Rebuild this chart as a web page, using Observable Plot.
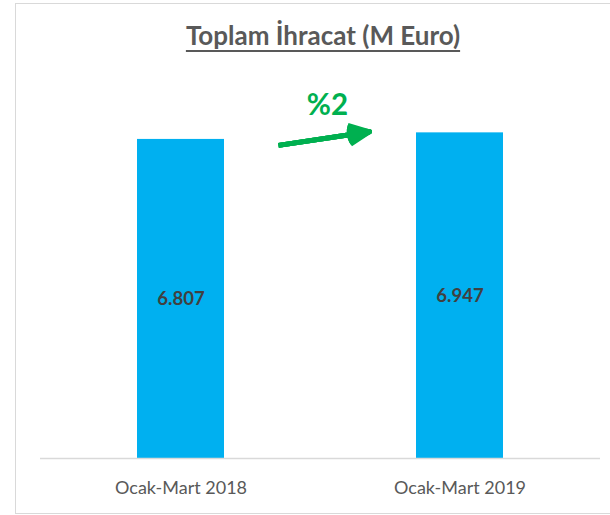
<!DOCTYPE html>
<html><head><meta charset="utf-8">
<script src="https://cdn.jsdelivr.net/npm/d3@7"></script>
<script src="https://cdn.jsdelivr.net/npm/@observablehq/plot@0.6"></script>
<style>
body{margin:0;background:#fff;}
#wrap{position:relative;width:610px;height:515px;overflow:hidden;font-family:Lato,sans-serif;background:#fff;}
#frame{position:absolute;left:15px;top:3px;width:640px;height:511px;border:1px solid #d9d9d9;box-sizing:border-box;}
#title{position:absolute;top:20px;left:43px;width:560px;text-align:center;font-size:26px;line-height:30px;font-weight:bold;color:#595959;text-decoration:underline;text-decoration-thickness:2px;text-underline-offset:5px;}
#chart{position:absolute;top:70px;left:0;}
</style>
</head><body>
<div id="wrap">
  <div id="frame"></div>
  <div id="title">Toplam İhracat (M Euro)</div>
  <div id="chart"></div>
</div>
<script>
const categories = ["Ocak-Mart 2018", "Ocak-Mart 2019"];
const values = [6807, 6947];
const growthLabel = "%2";
const yMax = 8000;
// growth arrow annotation (data units)
const arrowStartValue = 6370;
const arrowEndValue = 7258;
const growthLabelValue = 7530;

const data = categories.map((c, i) => ({cat: c, value: values[i]}));
const trLocale = d3.formatLocale({decimal: ",", thousands: ".", grouping: [3], currency: ["", ""]});
const fmt = trLocale.format(",d");
const arrowData = [{x1: categories[0], y1: arrowStartValue, x2: categories[1], y2: arrowEndValue}];
const headAngles = [50, 38, 26, 14];

const chart = Plot.plot({
  width: 610,
  height: 445,
  marginTop: 13,
  marginBottom: 57,
  marginLeft: 40,
  marginRight: 10,
  x: {domain: categories, paddingInner: 0.688, paddingOuter: 0.3475, tickSize: 0, tickPadding: 23, label: null},
  y: {domain: [0, yMax], axis: null},
  style: {fontFamily: "Lato, sans-serif", fontSize: "18px", color: "#595959", background: "transparent", overflow: "visible"},
  marks: [
    Plot.barY(data, {x: "cat", y: "value", fill: "#00B0F0"}),
    Plot.ruleY([0], {stroke: "#d9d9d9", strokeWidth: 1.5}),
    Plot.text(data, {x: "cat", y: d => d.value / 2, text: d => fmt(d.value), fontWeight: "bold", fontSize: 18.5, fill: "#404040"}),
    ...headAngles.map(a => Plot.arrow(arrowData, {
      x1: "x1", y1: "y1", x2: "x2", y2: "y2", bend: 0,
      stroke: "#00B050", strokeWidth: 5, headAngle: a, headLength: 6.8,
      insetStart: 98.6, insetEnd: 91.5, strokeLinecap: "butt", strokeLinejoin: "round"
    })),
    Plot.text([growthLabel], {y: () => growthLabelValue, text: d => d, dx: 7, fontSize: 29.5, fontWeight: "bold", fill: "#00B050"})
  ]
});
document.getElementById("chart").appendChild(chart);
</script>
</body></html>
